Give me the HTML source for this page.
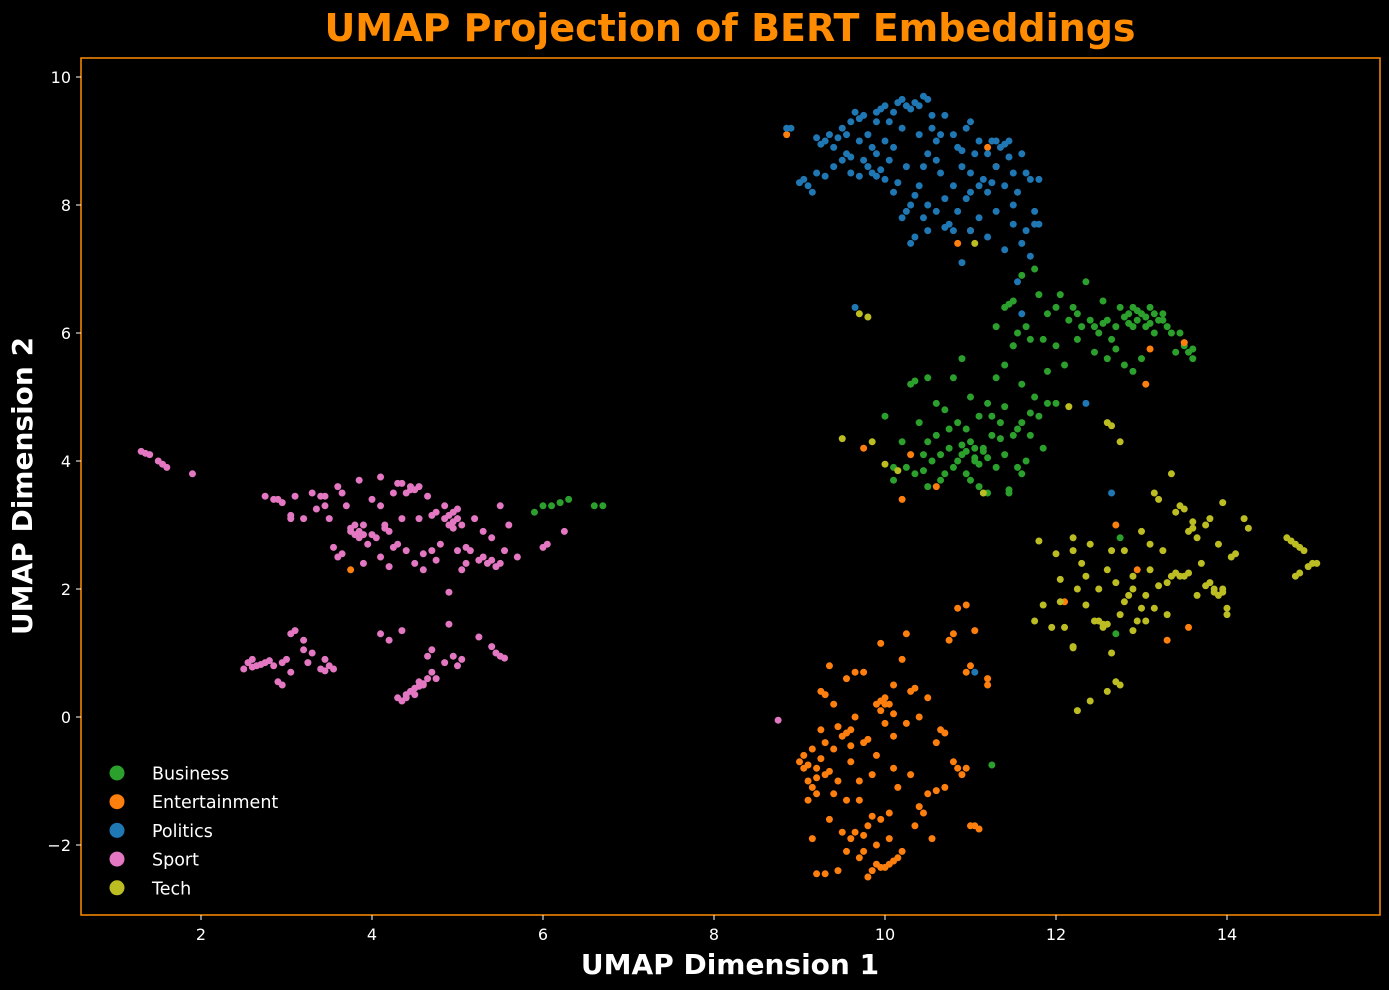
<!DOCTYPE html>
<html><head><meta charset="utf-8">
<style>
html,body{margin:0;padding:0;background:#000;}
svg{display:block;font-family:"DejaVu Sans","Liberation Sans",sans-serif;}
</style></head>
<body>
<svg id="chart" width="1389" height="990" viewBox="0 0 1389 990" xmlns="http://www.w3.org/2000/svg">
<rect x="0" y="0" width="1389" height="990" fill="#000"/>
<text x="730" y="41" text-anchor="middle" font-size="38" font-weight="bold" fill="#ff8c00">UMAP Projection of BERT Embeddings</text>
<g id="points"></g>
<rect x="81" y="58" width="1299" height="857" fill="none" stroke="#ff8c00" stroke-width="1.5"/>
<g id="xticks"></g>
<g id="yticks"></g>
<text x="730" y="974" text-anchor="middle" font-size="28" font-weight="bold" fill="#fff">UMAP Dimension 1</text>
<text transform="translate(32,486) rotate(-90)" text-anchor="middle" font-size="28" font-weight="bold" fill="#fff">UMAP Dimension 2</text>
<g id="legend"></g>
</svg>
<script>
const categories = ["Business","Entertainment","Politics","Sport","Tech"];
const colors = ["#2ca02c","#ff7f0e","#1f77b4","#e377c2","#bcbd22"];
const xTicks = [2,4,6,8,10,12,14];
const yTicks = [-2,0,2,4,6,8,10];

const politicsPts = [[8.85,9.2],[8.9,9.2],[9.05,8.4],[9.1,8.3],[9.15,8.2],[9.2,8.5],[9.3,8.45],[9.3,9.0],[9.35,9.1],[9.4,8.9],[9.5,8.7],[9.5,9.2],[9.6,8.5],[9.6,9.3],[9.7,8.45],[9.7,9.0],[9.75,9.4],[9.8,8.6],[9.8,9.1],[9.85,8.5],[9.9,9.3],[9.9,8.8],[9.95,9.5],[10.0,9.0],[10.0,8.4],[10.05,9.3],[10.1,8.9],[10.1,8.2],[10.15,9.6],[10.2,9.2],[10.2,7.8],[10.25,8.6],[10.3,9.5],[10.3,8.0],[10.35,7.5],[10.4,9.1],[10.4,8.3],[10.45,9.7],[10.5,8.8],[10.5,8.0],[10.55,9.4],[10.6,9.0],[10.65,8.5],[10.7,9.4],[10.75,7.7],[10.8,8.3],[10.8,9.1],[10.85,7.9],[10.9,8.6],[10.9,7.1],[10.95,9.2],[11.0,8.2],[11.0,7.6],[11.05,8.8],[11.1,9.0],[11.1,7.8],[11.15,8.4],[11.2,7.5],[11.25,9.0],[11.3,8.6],[11.35,8.9],[11.4,7.3],[11.45,9.0],[11.5,8.5],[11.5,7.7],[11.55,8.2],[11.6,8.8],[11.65,7.6],[11.7,8.4],[11.75,7.9],[11.8,8.4],[11.8,7.7],[11.7,7.2],[11.6,6.3],[11.55,6.8],[9.65,6.4],[12.65,3.5],[12.35,4.9],[11.05,0.7],[9.55,8.8],[9.75,8.7],[10.0,9.55],[10.2,9.65],[10.35,9.6],[10.6,8.7],[10.7,8.1],[10.85,8.9],[11.2,8.2],[11.3,7.9],[10.5,7.6],[10.3,7.4],[9.9,8.45],[10.45,8.6],[11.0,9.3],[11.4,8.3],[9.45,9.05],[9.65,9.45],[10.25,9.55],[10.55,9.2],[10.95,8.1],[11.25,8.35],[11.45,8.75],[9.2,9.05],[9.0,8.35],
[9.25,8.95],[9.4,8.6],[9.55,9.1],[9.7,9.35],[9.85,8.9],[9.9,9.45],[10.05,8.7],[10.15,8.35],[10.25,7.9],[10.35,8.15],[10.4,9.55],[10.5,9.65],[10.6,7.9],[10.65,9.1],[10.8,7.6],[10.9,8.85],[11.0,8.5],[11.1,8.3],[11.2,8.8],[11.3,9.0],[11.4,8.95],[11.5,8.0],[11.6,7.4],[11.65,8.5],[11.75,7.7],[10.45,7.8],[10.7,7.65],[9.95,8.55],[9.6,8.75],[10.1,9.45]];

const businessPts = [[11.3,6.1],[11.4,6.4],[11.5,5.8],[11.5,6.5],[11.6,6.9],[11.65,6.1],[11.7,5.9],[11.75,7.0],[11.8,6.6],[11.85,5.9],[11.9,6.3],[12.0,6.4],[12.05,6.6],[12.1,5.5],[12.15,6.2],[12.2,6.4],[12.25,5.9],[12.3,6.1],[12.35,6.8],[12.4,6.2],[12.45,5.7],[12.5,6.0],[12.55,6.5],[12.6,5.6],[12.6,6.2],[12.65,5.9],[12.7,6.1],[12.75,6.4],[12.8,5.5],[12.85,6.3],[12.9,6.4],[12.9,5.4],[12.95,6.2],[13.0,6.3],[13.0,5.6],[13.05,6.1],[13.1,6.4],[13.15,6.0],[13.2,6.2],[13.25,6.3],[13.3,6.1],[13.4,5.7],[13.45,6.0],[13.5,5.8],[13.55,5.7],[13.6,5.6],[12.0,5.8],[11.9,5.4],[11.6,5.2],[12.95,6.35],[13.05,6.25],[12.85,6.15],[13.15,6.3],[13.6,5.75],[12.7,5.75],
[12.45,6.1],[12.55,6.15],[12.9,6.1],[13.1,6.15],[13.25,6.2],[12.8,6.25],[11.45,6.45],[11.55,6.0],[12.25,6.3],[13.35,6.0],
[10.1,3.7],[10.2,4.3],[10.25,3.9],[10.3,5.2],[10.35,3.8],[10.4,4.6],[10.45,4.1],[10.5,3.6],[10.5,5.3],[10.55,4.0],[10.6,4.4],[10.65,3.7],[10.7,4.8],[10.75,4.2],[10.8,3.9],[10.8,5.3],[10.85,4.6],[10.9,4.1],[10.9,5.6],[10.95,3.8],[11.0,4.3],[11.0,5.0],[11.05,4.0],[11.1,4.7],[11.1,3.6],[11.15,4.2],[11.2,4.9],[11.2,3.5],[11.25,4.4],[11.3,3.9],[11.3,5.3],[11.35,4.6],[11.4,4.1],[11.45,3.5],[11.5,4.4],[11.5,5.8],[11.55,3.9],[11.6,4.6],[11.65,4.0],[11.7,4.4],[11.75,5.0],[11.8,4.7],[11.85,4.2],[11.9,4.9],[10.0,4.7],[10.1,3.9],[11.0,3.7],[10.95,4.5],[11.4,5.5],[12.0,4.9],[10.6,4.9],[10.35,5.25],[10.9,4.25],[11.05,4.05],[11.15,4.15],[11.45,3.55],[10.7,3.8],[11.35,4.35],
[10.85,4.0],[10.95,4.15],[11.05,4.2],[11.1,3.95],[10.75,4.5],[11.25,4.7],[11.55,4.5],[11.2,4.05],[10.5,4.3],[10.45,3.85],[11.6,3.8],[11.4,4.85],[10.65,4.1],[11.7,4.75],
[5.9,3.2],[6.0,3.3],[6.1,3.3],[6.2,3.35],[6.3,3.4],[6.6,3.3],[6.7,3.3],[12.7,1.3],[11.25,-0.75],[12.75,2.8]];

const entertainmentPts = [[9.0,-0.7],[9.05,-0.6],[9.1,-1.0],[9.1,-1.3],[9.15,-0.5],[9.2,-0.8],[9.2,-1.2],[9.25,0.4],[9.3,-0.9],[9.3,-2.45],[9.2,-2.45],[9.35,0.8],[9.35,-1.6],[9.4,-0.5],[9.45,-1.0],[9.5,-0.3],[9.5,-1.8],[9.55,-2.1],[9.55,0.6],[9.6,-0.7],[9.6,-1.9],[9.65,0.0],[9.7,-1.3],[9.7,-2.2],[9.75,-0.4],[9.75,0.7],[9.8,-1.7],[9.8,-2.5],[9.85,-0.9],[9.9,0.2],[9.9,-2.0],[9.95,-1.6],[9.95,-2.35],[10.0,0.3],[10.0,-0.1],[10.05,-1.5],[10.05,-2.3],[10.1,0.5],[10.1,-0.3],[10.15,-1.1],[10.2,-2.1],[10.2,0.9],[10.25,1.3],[10.3,0.4],[10.35,-1.7],[10.4,-1.4],[10.5,-1.2],[10.55,-1.9],[10.6,-0.4],[10.65,-0.2],[10.7,-1.1],[10.8,-0.7],[10.9,-0.9],[10.95,-0.8],[11.0,-1.7],[11.05,-1.7],[11.1,-1.75],[11.0,0.8],[10.95,0.7],[11.2,0.5],[11.2,0.6],[10.75,1.2],[10.8,1.3],[10.85,1.7],[10.95,1.75],[11.05,1.35],[10.4,0.0],[10.5,0.3],[9.95,1.15],[9.65,0.7],[9.4,0.2],[9.25,-0.2],[9.15,-1.9],[9.45,-2.4],[9.85,-2.4],[10.0,-2.35],[9.7,-1.0],[9.6,-0.2],[9.9,-0.6],[10.1,-0.8],[10.0,0.2],[9.95,0.25],[9.05,-0.8],[9.15,-1.1],[9.3,-0.4],[9.75,-1.85],[10.05,-1.9],[9.55,-1.3],[10.3,-0.9],[10.15,-2.2],
[9.1,-0.75],[9.2,-0.95],[9.25,-0.65],[9.35,-0.85],[9.45,-0.15],[9.55,-0.25],[9.65,-1.8],[9.75,-2.1],[9.85,-1.55],[9.95,0.1],[10.05,0.2],[10.1,0.05],[10.25,-0.1],[10.35,0.45],[10.45,-1.5],[10.6,-1.15],[10.7,-0.25],[10.85,-0.8],[9.9,-2.3],[10.1,-2.25],[9.6,-0.45],[9.8,-0.35],[9.3,0.35],[9.4,-1.2],
[8.85,9.1],[11.2,8.9],[11.3,8.6],[10.85,7.4],[11.0,7.6],[10.2,3.4],[10.3,4.1],[9.75,4.2],[13.05,5.2],[13.1,5.75],[13.5,5.85],[13.55,1.4],[13.3,1.2],[12.95,2.3],[12.7,3.0],[12.1,1.8],[3.75,2.3],[10.6,3.6]];

const sportPts = [[1.3,4.15],[1.35,4.12],[1.4,4.1],[1.5,4.0],[1.55,3.95],[1.6,3.9],[1.9,3.8],
[2.75,3.45],[2.85,3.4],[2.95,3.35],[3.05,3.15],[3.1,3.45],[3.2,3.1],[3.3,3.5],[3.4,3.45],[3.45,3.3],[3.5,3.1],[3.55,2.65],[3.6,2.5],[3.65,3.5],[3.7,3.3],[3.75,2.9],[3.8,3.0],[3.85,2.8],[3.85,3.7],[3.9,3.0],[3.95,2.7],[4.0,3.4],[4.05,2.8],[4.1,3.75],[4.1,2.5],[4.15,3.0],[4.2,2.9],[4.25,3.5],[4.3,3.65],[4.3,2.7],[4.35,3.1],[4.4,2.6],[4.45,3.6],[4.5,2.4],[4.5,3.55],[4.55,3.1],[4.6,2.3],[4.65,3.45],[4.7,2.6],[4.75,3.2],[4.8,2.7],[4.85,3.3],[4.9,3.0],[4.95,2.95],[4.9,1.95],[5.0,3.25],[5.0,2.6],[5.05,2.3],[5.1,2.4],[5.15,2.6],[5.2,3.1],[5.25,2.45],[5.3,2.5],[5.35,2.4],[5.4,2.8],[5.45,2.35],[5.5,3.3],[5.55,2.6],[5.6,3.0],[5.7,2.5],[6.0,2.65],[6.05,2.7],[6.25,2.9],[3.6,3.6],[3.9,2.4],[4.2,2.35],[4.75,2.45],[5.3,2.9],[4.95,3.05],[5.0,3.1],[4.9,3.15],[3.85,2.9],[3.9,2.85],[4.45,3.55],[3.35,3.25],[2.9,3.4],[4.1,3.3],[3.05,3.1],
[3.75,2.95],[3.8,2.85],[4.0,2.85],[4.15,2.95],[4.25,2.65],[4.35,3.65],[4.4,3.5],[4.55,3.6],[4.85,3.1],[4.95,3.2],[5.05,3.0],[5.1,2.65],[5.4,2.45],[5.5,2.4],[3.65,2.55],[3.45,3.45],[4.6,2.55],[4.7,3.15],
[2.5,0.75],[2.55,0.85],[2.6,0.9],[2.65,0.8],[2.75,0.85],[2.85,0.8],[2.9,0.55],[2.95,0.5],[3.0,0.9],[3.05,0.7],[3.05,1.3],[3.1,1.35],[3.2,1.2],[3.25,0.85],[3.3,1.0],[3.4,0.75],[3.45,0.9],[3.5,0.8],[3.55,0.75],[3.2,1.05],[2.95,0.85],[2.7,0.82],[2.6,0.78],[2.8,0.88],[3.45,0.72],
[4.1,1.3],[4.2,1.2],[4.35,1.35],[4.3,0.3],[4.35,0.25],[4.4,0.3],[4.45,0.4],[4.5,0.45],[4.55,0.55],[4.6,0.5],[4.65,0.6],[4.7,0.7],[4.75,0.6],[4.65,0.95],[4.7,1.05],[4.85,0.85],[4.9,1.45],[4.95,0.95],[5.0,0.8],[5.05,0.9],[5.25,1.25],[5.4,1.1],[5.45,1.0],[5.5,0.95],[5.55,0.92],[4.5,0.35],[4.6,0.52],[4.4,0.35],[4.55,0.48],
[8.75,-0.05]];

const techPts = [[11.75,1.5],[11.8,2.75],[11.85,1.75],[11.95,1.4],[12.0,2.55],[12.05,2.15],[12.1,1.4],[12.2,1.1],[12.2,2.8],[12.25,2.0],[12.3,2.4],[12.35,1.75],[12.4,2.7],[12.45,1.5],[12.5,2.0],[12.55,1.45],[12.6,2.3],[12.65,1.0],[12.7,2.1],[12.75,1.6],[12.8,2.6],[12.85,1.9],[12.9,2.2],[12.95,1.5],[13.0,2.9],[13.05,1.9],[13.1,2.3],[13.15,1.7],[13.2,3.4],[13.25,2.6],[13.3,2.1],[13.35,3.8],[13.4,2.25],[13.45,3.3],[13.5,2.2],[13.55,2.9],[13.6,3.05],[13.65,1.9],[13.7,2.4],[13.75,3.0],[13.8,2.1],[13.85,1.95],[13.9,2.7],[13.95,3.35],[14.0,1.7],[14.05,2.5],[14.2,3.1],[14.25,2.95],[13.3,1.6],[12.4,0.25],[12.25,0.1],[12.6,0.4],[12.75,0.5],[12.7,0.55],[13.15,3.5],[12.9,2.0],[13.05,1.5],[12.5,1.5],[13.5,3.25],[13.9,1.9],[13.95,2.0],[13.45,2.2],[13.6,2.95],[12.6,1.45],[12.2,2.6],[14.0,1.6],[13.1,2.7],
[12.2,1.08],[12.55,1.4],[12.8,1.8],[13.0,1.7],[13.2,2.05],[13.35,2.2],[13.55,2.25],[13.65,2.8],[13.75,2.05],[13.85,2.0],[13.95,1.95],[14.1,2.55],[13.4,3.2],[12.65,2.6],[12.9,1.35],[13.8,3.1],[12.35,2.2],[12.05,1.8],
[14.75,2.75],[14.8,2.7],[14.85,2.65],[14.9,2.6],[14.8,2.2],[14.85,2.25],[14.95,2.35],[15.0,2.4],[15.05,2.4],[14.7,2.8],
[12.6,4.6],[12.65,4.55],[12.75,4.3],[9.5,4.35],[9.85,4.3],[9.7,6.3],[9.8,6.25],[10.0,3.95],[11.15,3.5],[12.15,4.85],[10.15,3.85],[11.05,7.4]];

const series = [businessPts, entertainmentPts, politicsPts, sportPts, techPts];

const X0 = 30, XS = 85.5, Y0 = 717, YS = 64;
function xPx(v){ return X0 + v*XS; }
function yPx(v){ return Y0 - v*YS; }
const NS = "http://www.w3.org/2000/svg";

const gp = document.getElementById('points');
series.forEach(function(pts, si){
  pts.forEach(function(p){
    const c = document.createElementNS(NS,'circle');
    c.setAttribute('cx', xPx(p[0]));
    c.setAttribute('cy', yPx(p[1]));
    c.setAttribute('r', 3.5);
    c.setAttribute('fill', colors[si]);
    
    
    gp.appendChild(c);
  });
});

const gx = document.getElementById('xticks');
xTicks.forEach(function(t){
  const l = document.createElementNS(NS,'line');
  l.setAttribute('x1', xPx(t)); l.setAttribute('x2', xPx(t));
  l.setAttribute('y1', 915); l.setAttribute('y2', 920);
  l.setAttribute('stroke', '#fff');
  
  
  gx.appendChild(l);
  const tx = document.createElementNS(NS,'text');
  tx.setAttribute('x', xPx(t)); tx.setAttribute('y', 940);
  tx.setAttribute('text-anchor','middle'); tx.setAttribute('font-size','16'); tx.setAttribute('fill','#fff');
  tx.textContent = String(t);
  
  
  gx.appendChild(tx);
});
const gy = document.getElementById('yticks');
yTicks.forEach(function(t){
  const l = document.createElementNS(NS,'line');
  l.setAttribute('x1', 76); l.setAttribute('x2', 81);
  l.setAttribute('y1', yPx(t)); l.setAttribute('y2', yPx(t));
  l.setAttribute('stroke', '#fff');
  
  
  gy.appendChild(l);
  const tx = document.createElementNS(NS,'text');
  tx.setAttribute('x', 71); tx.setAttribute('y', yPx(t)+6);
  tx.setAttribute('text-anchor','end'); tx.setAttribute('font-size','16'); tx.setAttribute('fill','#fff');
  tx.textContent = t < 0 ? '\u2212' + Math.abs(t) : String(t);
  
  
  gy.appendChild(tx);
});

const gl = document.getElementById('legend');
categories.forEach(function(name, i){
  const y = 773 + i*28.7;
  const c = document.createElementNS(NS,'circle');
  c.setAttribute('cx', 117); c.setAttribute('cy', y); c.setAttribute('r', 7.5);
  c.setAttribute('fill', colors[i]);
  
  
  gl.appendChild(c);
  const t = document.createElementNS(NS,'text');
  t.setAttribute('x', 152); t.setAttribute('y', y+6.5);
  t.setAttribute('font-size','17.5'); t.setAttribute('fill','#fff');
  t.textContent = name;
  
  
  gl.appendChild(t);
});
</script>
</body></html>
